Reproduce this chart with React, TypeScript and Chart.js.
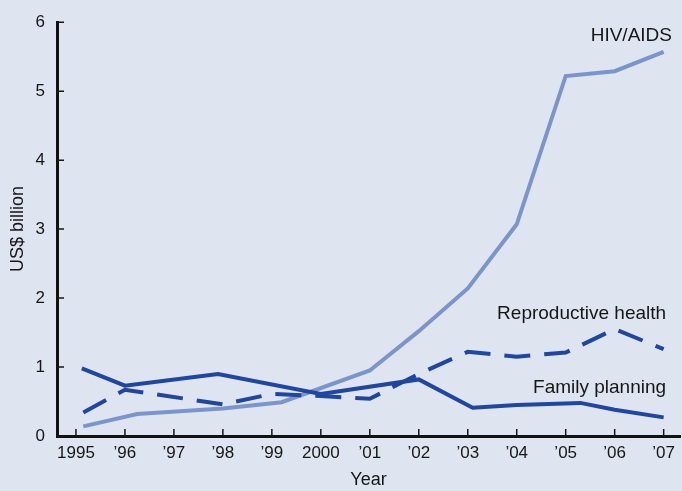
import React, { useEffect, useRef } from "react";
import { Chart, registerables } from "chart.js";

Chart.register(...registerables);

// ---- data ----
const tickYears = [1995, 1996, 1997, 1998, 1999, 2000, 2001, 2002, 2003, 2004, 2005, 2006, 2007];
const xTickLabels = ["1995", "\u201996", "\u201997", "\u201998", "\u201999", "2000", "\u201901", "\u201902", "\u201903", "\u201904", "\u201905", "\u201906", "\u201907"];

const familyYears = [1995.12, 1996, 1997.9, 2000, 2002, 2003.1, 2004, 2005.3, 2006, 2007];
const familyValues = [0.98, 0.73, 0.9, 0.61, 0.82, 0.41, 0.45, 0.48, 0.38, 0.27];

const reproYears = [1995.15, 1996, 1998, 1999, 2000, 2001, 2002, 2003, 2004, 2005, 2006, 2007];
const reproValues = [0.34, 0.67, 0.46, 0.61, 0.58, 0.54, 0.9, 1.22, 1.15, 1.21, 1.55, 1.26];

const hivYears = [1995.15, 1996.25, 1998, 1999.2, 2001, 2002, 2003, 2004, 2005, 2006, 2007];
const hivValues = [0.14, 0.32, 0.4, 0.49, 0.95, 1.52, 2.14, 3.07, 5.22, 5.29, 5.57];

const seriesNames = ["HIV/AIDS", "Reproductive health", "Family planning"];
const labelX = [2007.17, 2007.05, 2007.05];
const labelY = [5.73, 1.69, 0.63];

const xMin = 1994.613;
const xMax = 2007.336;

const BG = "#dfe4f1";
const DARK = "#1f46a0";
const LIGHT = "#7b95cb";
const TEXT = "#161616";
const FONT = '"Liberation Sans", Arial, sans-serif';

const pts = (xs: number[], ys: number[]) => xs.map((x, i) => ({ x, y: ys[i] }));

const overlay = {
  id: "overlay",
  beforeDatasetsDraw(chart: any) {
    const { ctx, chartArea, scales } = chart;
    const x = scales.x;
    const y = scales.y;
    ctx.save();
    ctx.strokeStyle = TEXT;
    ctx.lineWidth = 1.5;
    ctx.beginPath();
    x.ticks.forEach((t: any) => {
      const px = x.getPixelForValue(t.value);
      ctx.moveTo(px, chartArea.bottom);
      ctx.lineTo(px, chartArea.bottom - 7);
    });
    y.ticks.forEach((t: any) => {
      const py = y.getPixelForValue(t.value);
      ctx.moveTo(chartArea.left, py);
      ctx.lineTo(chartArea.left + 7, py);
    });
    ctx.stroke();
    ctx.restore();
  },
  afterDatasetsDraw(chart: any) {
    const { ctx, scales } = chart;
    ctx.save();
    ctx.fillStyle = TEXT;
    ctx.font = `19px ${FONT}`;
    ctx.textAlign = "right";
    ctx.textBaseline = "alphabetic";
    seriesNames.forEach((name, i) => {
      ctx.fillText(name, scales.x.getPixelForValue(labelX[i]), scales.y.getPixelForValue(labelY[i]));
    });
    ctx.restore();
  },
};

export default function App() {
  const ref = useRef<HTMLCanvasElement | null>(null);

  useEffect(() => {
    document.body.style.margin = "0";
    document.body.style.background = BG;
    const canvas = ref.current;
    if (!canvas) return;
    Chart.defaults.font.family = FONT;
    Chart.defaults.color = TEXT;
    const chart = new Chart(canvas, {
      type: "line",
      data: {
        datasets: [
          {
            label: "Family planning",
            data: pts(familyYears, familyValues),
            borderColor: DARK,
            borderWidth: 4,
            pointRadius: 0,
            fill: false,
            tension: 0,
          },
          {
            label: "Reproductive health",
            data: pts(reproYears, reproValues),
            borderColor: DARK,
            borderWidth: 4,
            borderDash: [26, 14],
            pointRadius: 0,
            fill: false,
            tension: 0,
          },
          {
            label: "HIV/AIDS",
            data: pts(hivYears, hivValues),
            borderColor: LIGHT,
            borderWidth: 4,
            pointRadius: 0,
            fill: false,
            tension: 0,
          },
        ],
      },
      options: {
        animation: false,
        responsive: false,
        devicePixelRatio: 1,
        layout: { padding: { top: 13, right: 0, bottom: 0, left: 0 } },
        plugins: { legend: { display: false }, tooltip: { enabled: false } },
        scales: {
          x: {
            type: "linear",
            min: xMin,
            max: xMax,
            afterBuildTicks: (s: any) => {
              s.ticks = tickYears.map((v) => ({ value: v }));
            },
            afterFit: (s: any) => {
              s.height = 55;
            },
            grid: { display: true, drawOnChartArea: false, drawTicks: false },
            border: { display: true, color: "#111", width: 3 },
            ticks: {
              padding: 7,
              autoSkip: false,
              maxRotation: 0,
              color: TEXT,
              font: { size: 17, family: FONT },
              callback: (_v: any, i: number) => xTickLabels[i],
            },
            title: {
              display: true,
              text: "Year",
              color: TEXT,
              font: { size: 18, family: FONT },
              padding: { top: 0, bottom: 0 },
            },
          },
          y: {
            type: "linear",
            min: 0,
            max: 6,
            afterFit: (s: any) => {
              s.width = 57;
            },
            grid: { display: true, drawOnChartArea: false, drawTicks: false },
            border: { display: true, color: "#111", width: 3 },
            ticks: {
              stepSize: 1,
              padding: 12,
              color: TEXT,
              font: { size: 17, family: FONT },
            },
            title: {
              display: true,
              text: "US$ billion",
              color: TEXT,
              font: { size: 18, family: FONT },
              padding: { top: 7, bottom: 0 },
            },
          },
        },
      },
      plugins: [overlay],
    });
    return () => chart.destroy();
  }, []);

  return (
    <div style={{ position: "fixed", left: 0, top: 0, width: 682, height: 491, background: BG }}>
      <canvas ref={ref} width={682} height={491} style={{ display: "block", width: 682, height: 491 }} />
    </div>
  );
}
